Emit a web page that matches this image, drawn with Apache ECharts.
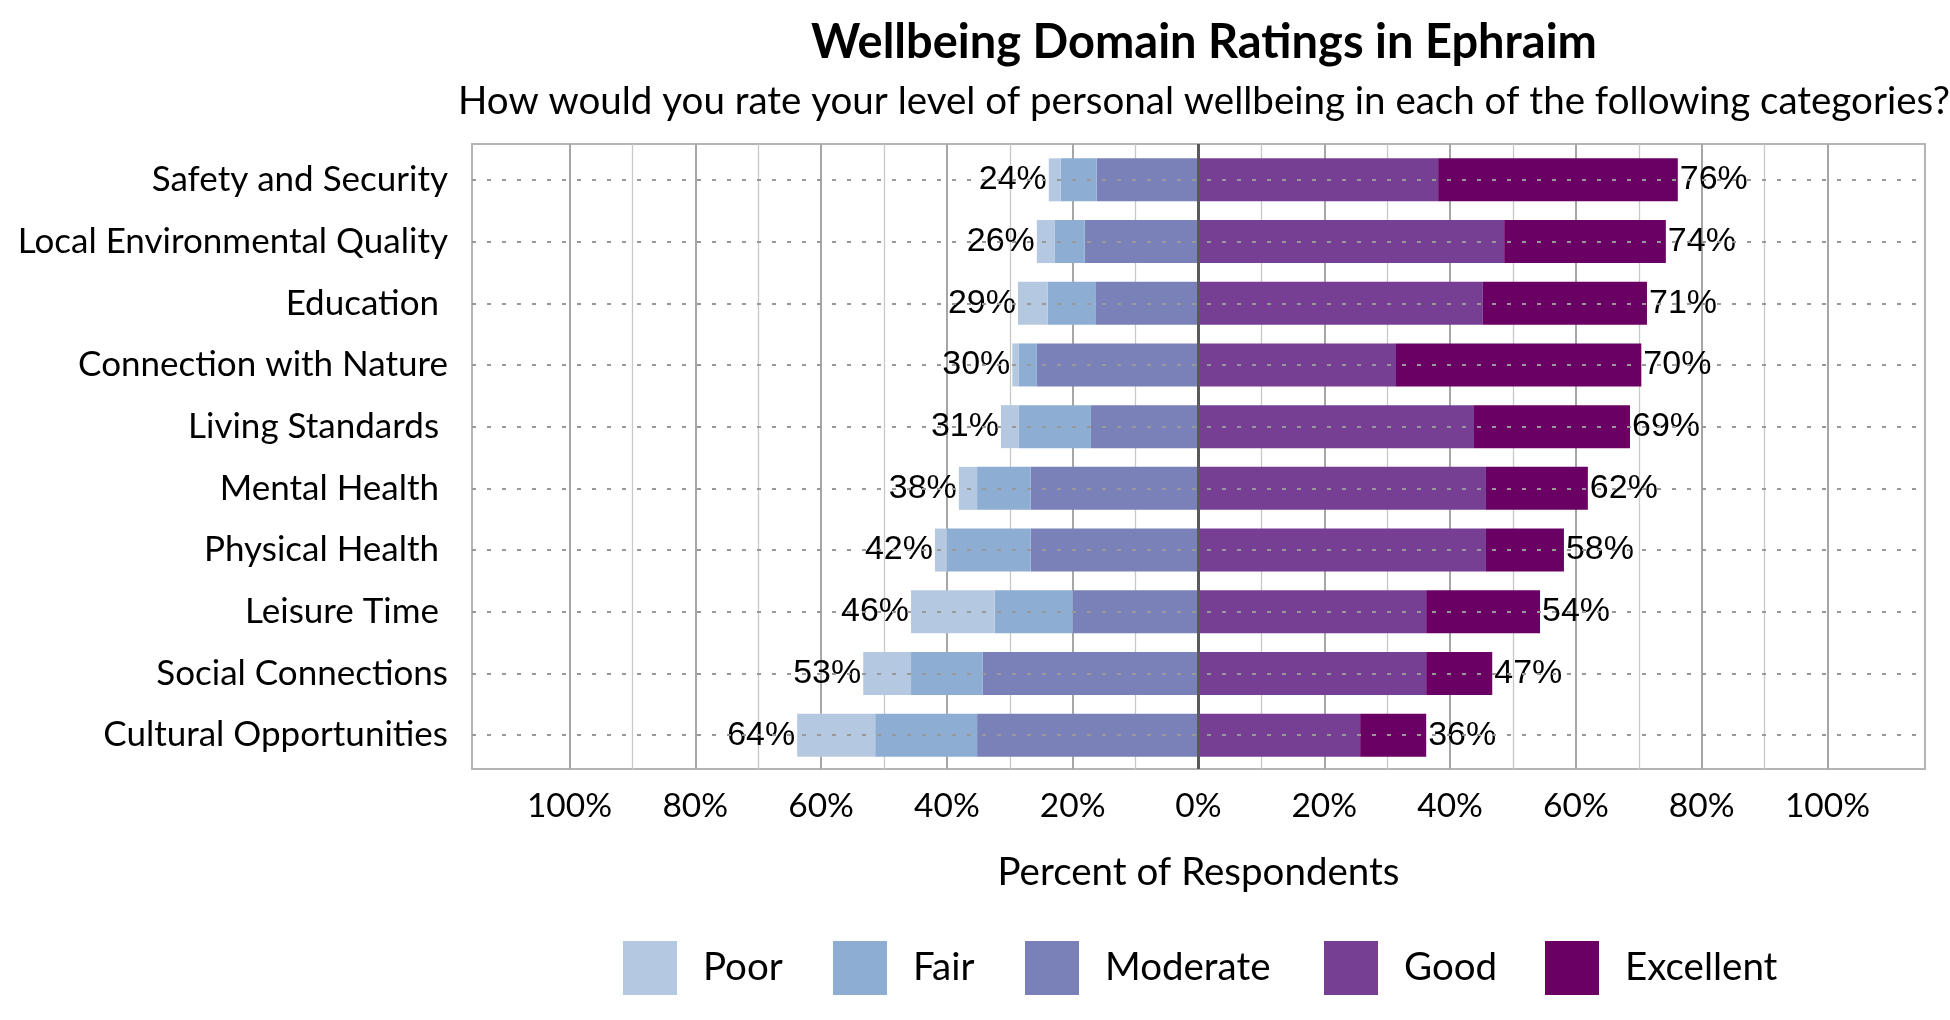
<!DOCTYPE html>
<html>
<head>
<meta charset="utf-8">
<script src="https://cdn.jsdelivr.net/npm/echarts@6/dist/echarts.min.js"></script>
<style>
html,body{margin:0;padding:0;background:#fff;}
#chart{width:1950px;height:1020px;}
</style>
</head>
<body>
<div id="chart"></div>
<script>
// ---- data (percent of respondents) ----
var categories = ['Safety and Security','Local Environmental Quality','Education ','Connection with Nature','Living Standards ','Mental Health ','Physical Health ','Leisure Time ','Social Connections','Cultural Opportunities'];
var poor      = [1.9, 2.8, 4.7, 1.0, 2.8, 2.9, 1.9, 13.3, 7.6, 12.4];
var fair      = [5.7, 4.8, 7.7, 2.9, 11.5, 8.5, 13.3, 12.4, 11.4, 16.2];
var moderate  = [16.2, 18.1, 16.3, 25.7, 17.1, 26.7, 26.7, 20.0, 34.3, 35.2];
var good      = [38.1, 48.6, 45.2, 31.4, 43.8, 45.7, 45.7, 36.2, 36.2, 25.7];
var excellent = [38.1, 25.7, 26.1, 39.0, 24.8, 16.2, 12.4, 18.1, 10.5, 10.5];
var tickMin = -100, tickMax = 100, tickStep = 20;
var seriesNames = ['Poor','Fair','Moderate','Good','Excellent'];
var colors = {Poor:'#b4c9e1', Fair:'#8daed2', Moderate:'#7a81b8', Good:'#763f94', Excellent:'#6b0064'};

var negTotal = categories.map(function(c,i){return poor[i]+fair[i]+moderate[i];});
var posTotal = categories.map(function(c,i){return good[i]+excellent[i];});
function neg(a){return a.map(function(v){return -v;});}

var catFont = 'Lato, "Open Sans", sans-serif';
var lblFont = '"Liberation Sans", Arial, sans-serif';

var chart = echarts.init(document.getElementById('chart'));
var barW = 43;
function barSeries(name, data, extra){
  var s = {
    name: name, type: 'bar', stack: 'total', data: data,
    xAxisIndex: 0, yAxisIndex: 0, barWidth: barW, z: 3,
    itemStyle: {color: colors[name]},
    emphasis: {disabled: true}
  };
  for (var k in extra) s[k] = extra[k];
  return s;
}
var legendX = {Poor: 623, Fair: 833, Moderate: 1025, Good: 1324, Excellent: 1545};

var option = {
  animation: false,
  backgroundColor: '#ffffff',
  title: [
    {text: 'Wellbeing Domain Ratings in Ephraim', left: 1199, top: 14, textAlign: 'center',
     textStyle: {fontFamily: catFont, fontWeight: 'bold', fontSize: 47, color: '#000'}},
    {text: 'How would you rate your level of personal wellbeing in each of the following categories?', left: 1199, top: 77, textAlign: 'center',
     textStyle: {fontFamily: catFont, fontWeight: 'normal', fontSize: 38.5, color: '#000'}}
  ],
  legend: seriesNames.map(function(n){
    return {data: [n], left: legendX[n], top: 941, padding: 0, itemWidth: 54, itemHeight: 54, icon: 'rect',
      selectedMode: false,
      textStyle: {fontFamily: catFont, fontSize: 38.5, color: '#000', padding: [0,0,0,21]}};
  }),
  grid: [
    {left: 472, right: 25, top: 149, bottom: 254, show: false},
    {left: 569.5, right: 122.5, top: 144, bottom: 251, show: false},
    {left: 472, right: 25, top: 144, bottom: 251, show: true, borderColor: '#b4b4b4', borderWidth: 2, backgroundColor: 'transparent'}
  ],
  xAxis: [
    {type: 'value', gridIndex: 0, min: -115.5, max: 115.5, show: false},
    {type: 'value', gridIndex: 1, min: tickMin, max: tickMax, interval: tickStep,
     axisLine: {show: false}, axisTick: {show: false},
     axisLabel: {fontFamily: catFont, fontSize: 33.5, color: '#000', margin: 20,
       formatter: function(v){return Math.abs(v) + '%';}},
     splitLine: {show: true, lineStyle: {color: '#a6a6a6', width: 2}},
     minorTick: {show: false, splitNumber: 2},
     minorSplitLine: {show: true, lineStyle: {color: '#c8c8c8', width: 1.3}},
     name: 'Percent of Respondents', nameLocation: 'middle', nameGap: 84,
     nameTextStyle: {fontFamily: catFont, fontSize: 38.5, color: '#000'}},
    {type: 'value', gridIndex: 2, min: 0, max: 1, show: false}
  ],
  yAxis: [
    {type: 'category', gridIndex: 0, data: categories, inverse: true,
     axisLine: {show: false}, axisTick: {show: false}, splitLine: {show: false},
     axisLabel: {fontFamily: catFont, fontSize: 35, color: '#000', margin: 24}},
    {type: 'value', gridIndex: 1, min: 0, max: 1, show: false},
    {type: 'value', gridIndex: 2, min: 0, max: 1, show: false}
  ],
  series: [
    {type: 'line', xAxisIndex: 0, yAxisIndex: 0, data: [], z: 1, silent: true,
     markLine: {silent: true, symbol: 'none', label: {show: false}, animation: false,
       lineStyle: {type: [4, 11], color: '#999999', width: 2},
       data: categories.map(function(c){return {yAxis: c};})}},
    barSeries('Moderate', neg(moderate)),
    barSeries('Fair', neg(fair)),
    barSeries('Poor', neg(poor), {label: {show: true, position: 'left', distance: 2,
      fontFamily: lblFont, fontSize: 34, color: '#000',
      formatter: function(p){return Math.round(negTotal[p.dataIndex]) + '%';}}}),
    barSeries('Good', good),
    barSeries('Excellent', excellent, {label: {show: true, position: 'right', distance: 2,
      fontFamily: lblFont, fontSize: 34, color: '#000',
      formatter: function(p){return Math.round(posTotal[p.dataIndex]) + '%';}}}),
    {type: 'line', xAxisIndex: 1, yAxisIndex: 1, data: [], z: 10, silent: true,
     markLine: {silent: true, symbol: 'none', label: {show: false}, animation: false,
       lineStyle: {type: 'solid', color: '#595959', width: 3},
       data: [{xAxis: 0}]}}
  ]
};
chart.setOption(option);
</script>
</body>
</html>
